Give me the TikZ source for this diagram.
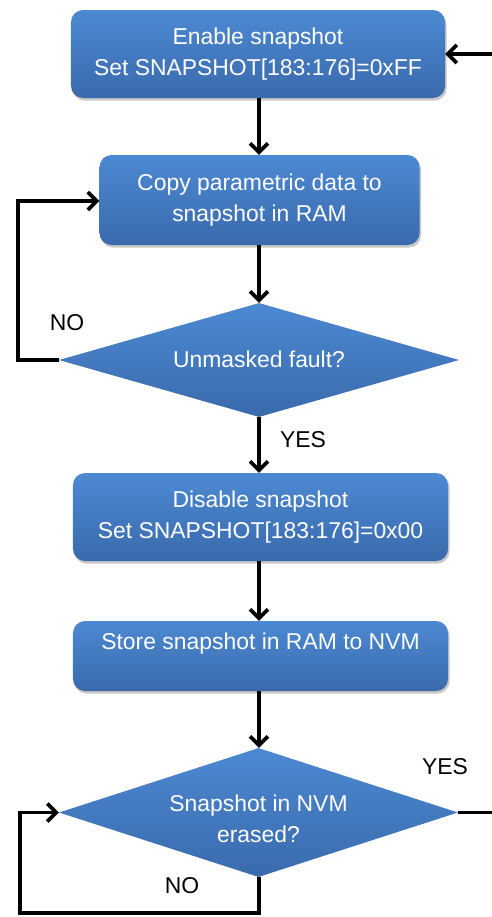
\documentclass[tikz,border=0pt]{standalone}
\usepackage{fontspec}
\setmainfont{Liberation Sans}
\usetikzlibrary{arrows.meta,shapes.geometric,shadows}
\definecolor{boxtop}{HTML}{4C89D2}
\definecolor{boxbot}{HTML}{3A6AAC}
\begin{document}
\begin{tikzpicture}[x=1bp,y=-1bp,
  proc/.style={draw=none, rounded corners=12bp, top color=boxtop, bottom color=boxbot,
    text=white, align=center, font=\fontsize{23}{31}\selectfont, inner sep=0pt,
    drop shadow={shadow xshift=1.5bp, shadow yshift=-2.5bp, opacity=0.3, fill=black!70}},
  dec/.style={shape=diamond, draw=none, top color=boxtop, bottom color=boxbot, inner sep=0pt},
  wtxt/.style={text=white, align=center, font=\fontsize{23}{31}\selectfont, inner sep=0pt},
  lbl/.style={text=black, font=\fontsize{23}{26}\selectfont, inner sep=0pt},
  conn/.style={line width=3.6bp, -{Straight Barb[length=9bp,width=18bp]}},
  line/.style={line width=3.6bp}
]
\useasboundingbox (0,0) rectangle (492,917);
\fill[white] (0,0) rectangle (492,917);

% nodes
\node[proc, minimum width=374bp, minimum height=88bp] (b1) at (258,54)
  {Enable snapshot\\Set SNAPSHOT[183:176]=0xFF};
\node[proc, minimum width=320bp, minimum height=90bp] (b2) at (259.5,200)
  {Copy parametric data to\\snapshot in RAM};
\node[dec, minimum width=400bp, minimum height=114bp] (d1) at (259,360) {};
\node[wtxt] (t1) at (259,359) {Unmasked fault?};
\node[proc, minimum width=375bp, minimum height=88bp] (b3) at (260.5,517)
  {Disable snapshot\\Set SNAPSHOT[183:176]=0x00};
\node[proc, minimum width=375bp, minimum height=70bp] (b4) at (260.5,656) {};
\node[wtxt] (t4) at (260.5,644) {Store snapshot in RAM to NVM};
\node[dec, minimum width=399bp, minimum height=129bp] (d2) at (258.5,812.5) {};
\node[wtxt] (t2) at (258.5,819) {Snapshot in NVM\\erased?};

% coordinates for free ends and bends
\coordinate (in1) at (492,54);
\coordinate (l1a) at (18,360);
\coordinate (l1b) at (18,201);
\coordinate (l2a) at (259,913);
\coordinate (l2b) at (20,913);
\coordinate (l2c) at (20,812.5);
\coordinate (out2) at (492,812.5);

% connectors
\draw[conn] (in1) -- (b1.east);
\draw[conn] (b1.south -| 259,0) -- (b2.north -| 259,0);
\draw[conn] (b2.south -| 259,0) -- (d1.north);
\draw[conn] (d1.west) -- (l1a) -- (l1b) -- (b2.west |- l1b);
\draw[conn] (d1.south) -- (b3.north -| d1.south);
\draw[conn] (b3.south -| 259,0) -- (b4.north -| 259,0);
\draw[conn] (b4.south -| 259,0) -- (d2.north -| 259,0);
\draw[conn] (d2.south -| 259,0) -- (l2a) -- (l2b) -- (l2c) -- (d2.west);
\draw[line] (d2.east) -- (out2);

% labels
\node[lbl] (no1) at (67,323) {NO};
\node[lbl] (yes1) at (303,440) {YES};
\node[lbl] (yes2) at (445,767) {YES};
\node[lbl] (no2) at (182,886) {NO};
\end{tikzpicture}
\end{document}
